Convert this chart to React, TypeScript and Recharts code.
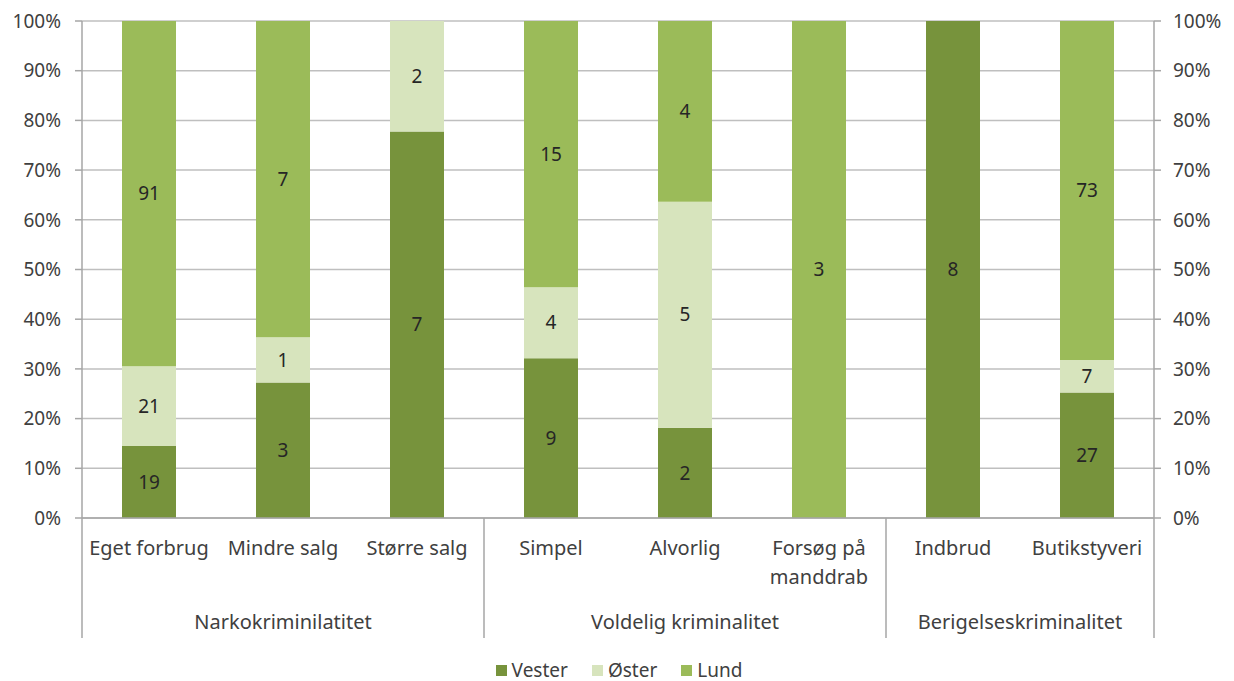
import { BarChart, Bar, XAxis, YAxis, CartesianGrid, Legend, LabelList } from "recharts";

const categories = [
  "Eget forbrug",
  "Mindre salg",
  "Større salg",
  "Simpel",
  "Alvorlig",
  "Forsøg på\nmanddrab",
  "Indbrud",
  "Butikstyveri",
];

const vester = [19, 3, 7, 9, 2, 0, 8, 27];
const oster = [21, 1, 2, 4, 5, 0, 0, 7];
const lund = [91, 7, 0, 15, 4, 3, 0, 73];

const groups = [
  { name: "Narkokriminilatitet", count: 3 },
  { name: "Voldelig kriminalitet", count: 3 },
  { name: "Berigelseskriminalitet", count: 2 },
];

const percentTicks = [0, 0.1, 0.2, 0.3, 0.4, 0.5, 0.6, 0.7, 0.8, 0.9, 1];

const series = [
  { key: "Vester", color: "#77933C" },
  { key: "Øster", color: "#D7E4BD" },
  { key: "Lund", color: "#9BBB59" },
];

const data = categories.map((name, i) => ({
  name,
  Vester: vester[i],
  Øster: oster[i],
  Lund: lund[i],
}));

const FONT = "'Noto Sans', sans-serif";
const TEXT = "#404040";
const GRID = "#BFBFBF";
const AXIS = "#A6A6A6";

// where each group starts (category index)
const groupStarts: number[] = [];
groups.reduce((acc, g) => {
  groupStarts.push(acc);
  return acc + g.count;
}, 0);

const CategoryTick = (props: any) => {
  const { x, y, payload, index, width } = props;
  const band = width ? width / categories.length : 134;
  const lines = String(payload.value).split("\n");
  const gi = groupStarts.indexOf(index);
  const isLast = index === categories.length - 1;
  return (
    <g>
      {lines.map((l, k) => (
        <text
          key={k}
          x={x}
          y={y + 37}
          dy={k * 29}
          textAnchor="middle"
          fontSize={20}
          fontFamily={FONT}
          fill={TEXT}
        >
          {l}
        </text>
      ))}
      {gi >= 0 && (
        <>
          <line x1={x - band / 2} x2={x - band / 2} y1={y} y2={y + 120} stroke={AXIS} strokeWidth={1.5} />
          <text
            x={x - band / 2 + (groups[gi].count * band) / 2}
            y={y + 111}
            textAnchor="middle"
            fontSize={20}
            fontFamily={FONT}
            fill={TEXT}
          >
            {groups[gi].name}
          </text>
        </>
      )}
      {isLast && (
        <line x1={x + band / 2} x2={x + band / 2} y1={y} y2={y + 120} stroke={AXIS} strokeWidth={1.5} />
      )}
    </g>
  );
};

const LegendBox = () => (
  <div
    style={{
      height: 43,
      display: "flex",
      justifyContent: "center",
      alignItems: "flex-start",
      gap: 24,
      fontFamily: FONT,
      fontSize: 19,
      color: TEXT,
      paddingLeft: 4,
      paddingTop: 21,
      boxSizing: "border-box",
    }}
  >
    {series.map((s) => (
      <span key={s.key} style={{ display: "flex", alignItems: "center", lineHeight: "22px" }}>
        <span style={{ width: 11, height: 11, background: s.color, marginRight: 5, display: "inline-block" }} />
        {s.key}
      </span>
    ))}
  </div>
);

const pct = (v: number) => `${Math.round(v * 100)}%`;
const showLabel = (v: any) => (v > 0 ? v : "");

const labelStyle = { fontSize: 19, fontFamily: FONT, fill: "#262626" };
const tickStyle = { fontSize: 19, fontFamily: FONT, fill: TEXT };

export default function App() {
  return (
    <div style={{ position: "absolute", top: 0, left: 0, width: 1234, height: 681, background: "#fff" }}>
      <BarChart
        width={1234}
        height={681}
        data={data}
        stackOffset="expand"
        margin={{ top: 21, right: 0, left: 0, bottom: 0 }}
      >
        <CartesianGrid vertical={false} stroke={GRID} strokeWidth={1.5} yAxisId="left" />
        <XAxis
          dataKey="name"
          interval={0}
          tickLine={false}
          tickSize={0}
          tickMargin={0}
          height={120}
          axisLine={{ stroke: AXIS, strokeWidth: 1.5 }}
          tick={<CategoryTick />}
        />
        <YAxis
          yAxisId="left"
          width={82}
          domain={[0, 1]}
          ticks={percentTicks}
          tickFormatter={pct}
          tickSize={7}
          tickMargin={14}
          axisLine={{ stroke: AXIS, strokeWidth: 1.5 }}
          tickLine={{ stroke: AXIS, strokeWidth: 1.5 }}
          tick={tickStyle}
        />
        <YAxis
          yAxisId="right"
          orientation="right"
          width={80}
          type="number"
          domain={[0, 1]}
          ticks={percentTicks}
          tickFormatter={pct}
          tickSize={7}
          tickMargin={12}
          axisLine={{ stroke: AXIS, strokeWidth: 1.5 }}
          tickLine={{ stroke: AXIS, strokeWidth: 1.5 }}
          tick={tickStyle}
        />
        <Legend verticalAlign="bottom" content={<LegendBox />} />
        {series.map((s) => (
          <Bar
            key={s.key}
            yAxisId="left"
            dataKey={s.key}
            stackId="a"
            fill={s.color}
            barSize={54}
            isAnimationActive={false}
          >
            <LabelList dataKey={s.key} position="center" formatter={showLabel} style={labelStyle} />
          </Bar>
        ))}
      </BarChart>
    </div>
  );
}
